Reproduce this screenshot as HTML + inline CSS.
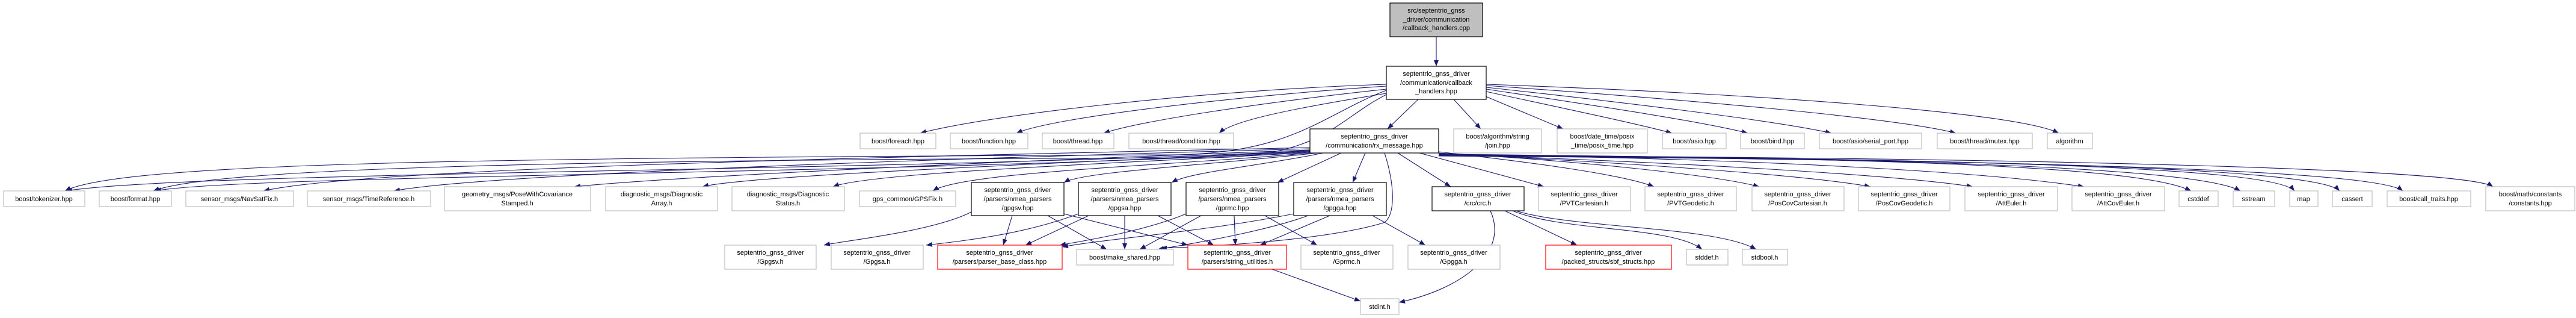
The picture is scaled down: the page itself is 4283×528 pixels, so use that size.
<!DOCTYPE html>
<html><head><meta charset="utf-8"><style>
html,body{margin:0;padding:0;background:#fff;}
svg{display:block}
text{font-family:"Liberation Sans",Arial,sans-serif;font-size:11px;fill:#000;text-anchor:middle}
.g{fill:#fff;stroke:#bfbfbf;stroke-width:1.2}
.b{fill:#fff;stroke:#000;stroke-width:1.2}
.r{fill:#fff;stroke:#ff0000;stroke-width:1.2}
.e path{fill:none;stroke:#191970;stroke-width:1.1;marker-end:url(#a)}
</style></head><body>
<svg width="4283" height="528" viewBox="0 0 4283 528" xmlns="http://www.w3.org/2000/svg">
<defs><marker id="a" markerWidth="10" markerHeight="8" refX="10" refY="4" orient="auto" markerUnits="userSpaceOnUse"><path d="M0,0 L10,4 L0,8z" fill="#191970"/></marker></defs>
<g class="e">
<path d="M2388 61 L2388 110"/>
<path d="M2358 165 L2307 214"/>
<path d="M2417 165 L2462 214"/>
<path d="M2470 160 L2599 214"/>
<path d="M2471 152 C2600 180 2720 205 2780 221"/>
<path d="M2471 148 C2650 175 2820 200 2906 221"/>
<path d="M2471 145 C2700 170 2950 200 3045 221"/>
<path d="M2471 142 C2800 165 3150 195 3252 221"/>
<path d="M2471 140 C2900 155 3350 185 3423 221"/>
<path d="M2305 140 C2000 150 1650 190 1530 221"/>
<path d="M2305 143 C2050 160 1750 195 1690 221"/>
<path d="M2305 148 C2100 170 1900 200 1835 221"/>
<path d="M2305 155 C2150 180 2050 200 2027 221"/>
<path d="M2305 150 C2200 190 2150 255 1950 257 C800 262 200 270 108 317"/>
<path d="M2305 157 C2220 200 2200 262 2000 262 C900 265 350 280 255 317"/>
<path d="M2178 250 C1500 285 300 285 110 317"/>
<path d="M2178 252 C1500 290 400 290 258 317"/>
<path d="M2178 245 C1400 262 600 280 438 317"/>
<path d="M2178 247 C1500 265 800 290 655 317"/>
<path d="M2178 249 C1600 270 1100 295 955 310"/>
<path d="M2178 251 C1800 270 1250 290 1168 310"/>
<path d="M2178 253 C1900 270 1450 285 1385 310"/>
<path d="M2178 254 C1950 275 1600 285 1551 317"/>
<path d="M2190 254 C2000 275 1800 285 1769 303"/>
<path d="M2200 254 C2100 275 1980 285 1948 303"/>
<path d="M2230 254 L2124 303"/>
<path d="M2270 254 L2249 303"/>
<path d="M2324 254 L2412 310"/>
<path d="M2360 254 L2567 310"/>
<path d="M2392 252 C2550 270 2700 290 2750 310"/>
<path d="M2392 254 C2600 265 2850 290 2925 310"/>
<path d="M2392 255 C2700 270 3000 290 3110 310"/>
<path d="M2392 256 C2800 270 3150 290 3280 310"/>
<path d="M2392 257 C2900 262 3300 285 3465 310"/>
<path d="M2392 256 C3000 262 3550 270 3643 317"/>
<path d="M2392 257 C3100 262 3650 275 3725 317"/>
<path d="M2392 257 C3200 263 3780 275 3815 317"/>
<path d="M2392 258 C3200 264 3850 275 3890 317"/>
<path d="M2392 259 C3300 265 3950 280 3995 317"/>
<path d="M2392 258 C3400 262 4100 280 4145 310"/>
<path d="M2302 254 C2320 310 2320 360 2300 370 C2200 400 2000 410 1930 412"/>
<path d="M1615 352 C1550 385 1400 400 1370 407"/>
<path d="M1683 358 L1668 407"/>
<path d="M1742 358 L1840 414"/>
<path d="M1769 355 L1975 407"/>
<path d="M1793 355 C1700 390 1600 400 1540 407"/>
<path d="M1810 358 L1705 407"/>
<path d="M1870 358 L1870 414"/>
<path d="M1925 358 L2018 407"/>
<path d="M2103 358 L2190 407"/>
<path d="M1972 355 C1900 385 1800 400 1762 407"/>
<path d="M1997 358 L1895 414"/>
<path d="M2052 358 L2054 407"/>
<path d="M2282 358 L2370 407"/>
<path d="M2151 355 C2000 385 1850 395 1766 410"/>
<path d="M2175 358 C2100 385 1980 405 1925 414"/>
<path d="M2211 358 L2095 407"/>
<path d="M2502 350 L2622 407"/>
<path d="M2515 350 C2600 385 2780 375 2830 414"/>
<path d="M2520 350 C2620 380 2850 375 2920 414"/>
<path d="M2478 350 C2510 420 2430 480 2326 502"/>
<path d="M2115 447 L2262 500"/>
</g>
<!-- nodes -->
<rect x="2311" y="5" width="154" height="56" fill="#bfbfbf" stroke="#000" stroke-width="1.2"/>
<text x="2388" y="21">src/septentrio_gnss</text><text x="2388" y="36">_driver/communication</text><text x="2388" y="50">/callback_handlers.cpp</text>
<rect class="b" x="2305" y="110" width="166" height="55"/>
<text x="2388" y="126">septentrio_gnss_driver</text><text x="2388" y="141">/communication/callback</text><text x="2388" y="155">_handlers.hpp</text>
<rect class="b" x="2178" y="214" width="214" height="40"/>
<text x="2285" y="230">septentrio_gnss_driver</text><text x="2285" y="245">/communication/rx_message.hpp</text>
<!-- row2 -->
<rect class="g" x="1430" y="221" width="126" height="26"/><text x="1493" y="238">boost/foreach.hpp</text>
<rect class="g" x="1580" y="221" width="129" height="26"/><text x="1644" y="238">boost/function.hpp</text>
<rect class="g" x="1733" y="221" width="119" height="26"/><text x="1792" y="238">boost/thread.hpp</text>
<rect class="g" x="1877" y="221" width="174" height="26"/><text x="1964" y="238">boost/thread/condition.hpp</text>
<rect class="g" x="2417" y="214" width="146" height="40"/><text x="2490" y="230">boost/algorithm/string</text><text x="2490" y="245">/join.hpp</text>
<rect class="g" x="2589" y="214" width="150" height="40"/><text x="2664" y="230">boost/date_time/posix</text><text x="2664" y="245">_time/posix_time.hpp</text>
<rect class="g" x="2764" y="221" width="106" height="26"/><text x="2817" y="238">boost/asio.hpp</text>
<rect class="g" x="2894" y="221" width="106" height="26"/><text x="2947" y="238">boost/bind.hpp</text>
<rect class="g" x="3025" y="221" width="170" height="26"/><text x="3110" y="238">boost/asio/serial_port.hpp</text>
<rect class="g" x="3221" y="221" width="158" height="26"/><text x="3300" y="238">boost/thread/mutex.hpp</text>
<rect class="g" x="3404" y="221" width="75" height="26"/><text x="3441" y="238">algorithm</text>
<!-- row3 -->
<rect class="g" x="6" y="317" width="135" height="26"/><text x="73" y="334">boost/tokenizer.hpp</text>
<rect class="g" x="165" y="317" width="120" height="26"/><text x="225" y="334">boost/format.hpp</text>
<rect class="g" x="309" y="317" width="179" height="26"/><text x="398" y="334">sensor_msgs/NavSatFix.h</text>
<rect class="g" x="511" y="317" width="205" height="26"/><text x="613" y="334">sensor_msgs/TimeReference.h</text>
<rect class="g" x="739" y="310" width="243" height="40"/><text x="860" y="326">geometry_msgs/PoseWithCovariance</text><text x="860" y="341">Stamped.h</text>
<rect class="g" x="1007" y="310" width="186" height="40"/><text x="1100" y="326">diagnostic_msgs/Diagnostic</text><text x="1100" y="341">Array.h</text>
<rect class="g" x="1217" y="310" width="187" height="40"/><text x="1310" y="326">diagnostic_msgs/Diagnostic</text><text x="1310" y="341">Status.h</text>
<rect class="g" x="1429" y="317" width="160" height="26"/><text x="1509" y="334">gps_common/GPSFix.h</text>
<rect class="b" x="1615" y="303" width="154" height="55"/><text x="1692" y="319">septentrio_gnss_driver</text><text x="1692" y="334">/parsers/nmea_parsers</text><text x="1692" y="349">/gpgsv.hpp</text>
<rect class="b" x="1793" y="303" width="154" height="55"/><text x="1870" y="319">septentrio_gnss_driver</text><text x="1870" y="334">/parsers/nmea_parsers</text><text x="1870" y="349">/gpgsa.hpp</text>
<rect class="b" x="1972" y="303" width="154" height="55"/><text x="2049" y="319">septentrio_gnss_driver</text><text x="2049" y="334">/parsers/nmea_parsers</text><text x="2049" y="349">/gprmc.hpp</text>
<rect class="b" x="2151" y="303" width="154" height="55"/><text x="2228" y="319">septentrio_gnss_driver</text><text x="2228" y="334">/parsers/nmea_parsers</text><text x="2228" y="349">/gpgga.hpp</text>
<rect class="b" x="2381" y="310" width="153" height="40"/><text x="2457" y="326">septentrio_gnss_driver</text><text x="2457" y="341">/crc/crc.h</text>
<rect class="g" x="2558" y="310" width="153" height="40"/><text x="2634" y="326">septentrio_gnss_driver</text><text x="2634" y="341">/PVTCartesian.h</text>
<rect class="g" x="2735" y="310" width="152" height="40"/><text x="2811" y="326">septentrio_gnss_driver</text><text x="2811" y="341">/PVTGeodetic.h</text>
<rect class="g" x="2913" y="310" width="153" height="40"/><text x="2989" y="326">septentrio_gnss_driver</text><text x="2989" y="341">/PosCovCartesian.h</text>
<rect class="g" x="3090" y="310" width="152" height="40"/><text x="3166" y="326">septentrio_gnss_driver</text><text x="3166" y="341">/PosCovGeodetic.h</text>
<rect class="g" x="3267" y="310" width="154" height="40"/><text x="3344" y="326">septentrio_gnss_driver</text><text x="3344" y="341">/AttEuler.h</text>
<rect class="g" x="3445" y="310" width="154" height="40"/><text x="3522" y="326">septentrio_gnss_driver</text><text x="3522" y="341">/AttCovEuler.h</text>
<rect class="g" x="3623" y="317" width="65" height="26"/><text x="3655" y="334">cstddef</text>
<rect class="g" x="3713" y="317" width="69" height="26"/><text x="3747" y="334">sstream</text>
<rect class="g" x="3807" y="317" width="47" height="26"/><text x="3830" y="334">map</text>
<rect class="g" x="3878" y="317" width="66" height="26"/><text x="3911" y="334">cassert</text>
<rect class="g" x="3969" y="317" width="139" height="26"/><text x="4038" y="334">boost/call_traits.hpp</text>
<rect class="g" x="4133" y="310" width="148" height="40"/><text x="4207" y="326">boost/math/constants</text><text x="4207" y="341">/constants.hpp</text>
<!-- row4 -->
<rect class="g" x="1205" y="407" width="152" height="40"/><text x="1281" y="423">septentrio_gnss_driver</text><text x="1281" y="438">/Gpgsv.h</text>
<rect class="g" x="1382" y="407" width="153" height="40"/><text x="1458" y="423">septentrio_gnss_driver</text><text x="1458" y="438">/Gpgsa.h</text>
<rect class="r" x="1559" y="407" width="207" height="40"/><text x="1662" y="423">septentrio_gnss_driver</text><text x="1662" y="438">/parsers/parser_base_class.hpp</text>
<rect class="g" x="1790" y="414" width="161" height="26"/><text x="1870" y="431">boost/make_shared.hpp</text>
<rect class="r" x="1975" y="407" width="164" height="40"/><text x="2057" y="423">septentrio_gnss_driver</text><text x="2057" y="438">/parsers/string_utilities.h</text>
<rect class="g" x="2163" y="407" width="153" height="40"/><text x="2239" y="423">septentrio_gnss_driver</text><text x="2239" y="438">/Gprmc.h</text>
<rect class="g" x="2341" y="407" width="153" height="40"/><text x="2417" y="423">septentrio_gnss_driver</text><text x="2417" y="438">/Gpgga.h</text>
<rect class="r" x="2570" y="407" width="209" height="40"/><text x="2674" y="423">septentrio_gnss_driver</text><text x="2674" y="438">/packed_structs/sbf_structs.hpp</text>
<rect class="g" x="2804" y="414" width="69" height="26"/><text x="2838" y="431">stddef.h</text>
<rect class="g" x="2897" y="414" width="75" height="26"/><text x="2934" y="431">stdbool.h</text>
<rect class="g" x="2262" y="496" width="64" height="26"/><text x="2294" y="513">stdint.h</text>
</svg>
</body></html>
